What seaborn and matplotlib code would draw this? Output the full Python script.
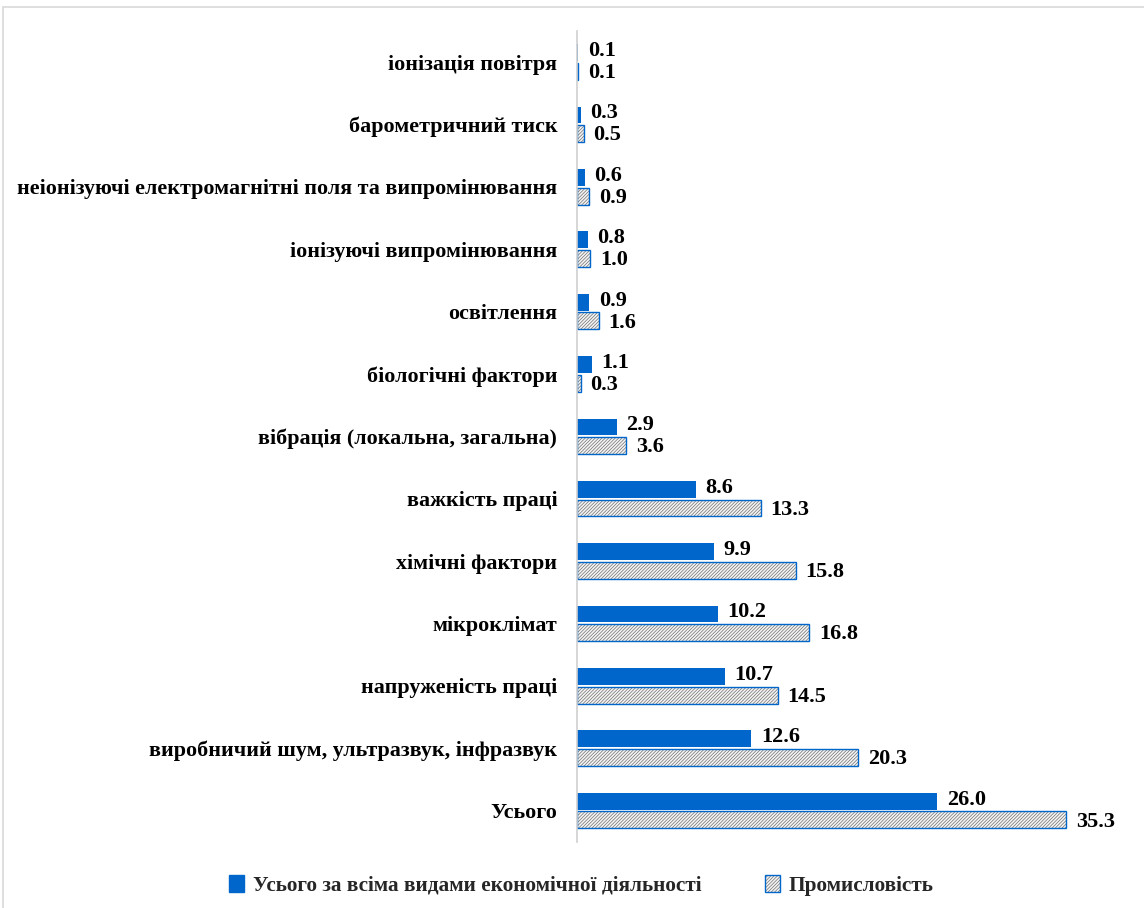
import numpy as np
import pandas as pd
import matplotlib
matplotlib.use("Agg")
import matplotlib.pyplot as plt
from matplotlib.patches import Rectangle
import seaborn as sns

categories = [
    "іонізація повітря",
    "барометричний тиск",
    "неіонізуючі електромагнітні поля та випромінювання",
    "іонізуючі випромінювання",
    "освітлення",
    "біологічні фактори",
    "вібрація (локальна, загальна)",
    "важкість праці",
    "хімічні фактори",
    "мікроклімат",
    "напруженість праці",
    "виробничий шум, ультразвук, інфразвук",
    "Усього",
]
series_names = ["Усього за всіма видами економічної діяльності", "Промисловість"]
total_values = [0.1, 0.3, 0.6, 0.8, 0.9, 1.1, 2.9, 8.6, 9.9, 10.2, 10.7, 12.6, 26.0]
industry_values = [0.1, 0.5, 0.9, 1.0, 1.6, 0.3, 3.6, 13.3, 15.8, 16.8, 14.5, 20.3, 35.3]

df = pd.DataFrame({
    "category": categories * 2,
    "series": [series_names[0]] * len(categories) + [series_names[1]] * len(categories),
    "value": total_values + industry_values,
})

sns.set_theme(style="white")
plt.rcParams["font.family"] = ["Liberation Serif", "DejaVu Serif"]
plt.rcParams["font.weight"] = "bold"
plt.rcParams["hatch.linewidth"] = 0.5

BLUE = "#0066CC"
HATCH = "/" * 10
HATCH_COLOR = "#707070"
fig = plt.figure(figsize=(11.44, 9.08), dpi=100)
ax = fig.add_axes([0.504, 0.073, 0.475, 0.893])

sns.barplot(data=df, y="category", x="value", hue="series", order=categories,
            hue_order=series_names, palette=[BLUE, "white"], width=0.6, gap=0.1,
            orient="h", ax=ax, legend=False, saturation=1)

n = len(categories)
blue_bars = ax.patches[:n]
hatch_bars = ax.patches[n:2 * n]
for p in blue_bars:
    p.set_edgecolor(BLUE)
    p.set_linewidth(0)
for p in hatch_bars:
    p.set_facecolor("#f4f4f4")
    p.set_edgecolor(HATCH_COLOR)
    p.set_hatch(HATCH)
    p.set_linewidth(0)
    outline = Rectangle((p.get_x(), p.get_y()), p.get_width(), p.get_height(),
                        fill=False, edgecolor=BLUE, linewidth=1.0, zorder=p.get_zorder() + 0.1)
    ax.add_patch(outline)

for bars, vals, dy in ((blue_bars, total_values, 1.2), (hatch_bars, industry_values, -1.2)):
    for p, v in zip(bars, vals):
        ax.annotate(f"{v:.1f}", (p.get_x() + p.get_width(), p.get_y() + p.get_height() / 2),
                    xytext=(7, dy), textcoords="offset points", va="center", ha="left",
                    fontsize=16, fontweight="bold", color="black")

ax.set_xlim(0, 39.2)
ax.set_ylim(n - 0.5, -0.5)
ax.set_xlabel("")
ax.set_ylabel("")
ax.set_xticks([])
ax.tick_params(axis="y", length=0, pad=14, labelsize=15.8)
for lbl in ax.get_yticklabels():
    lbl.set_fontweight("bold")
    lbl.set_color("black")
for s in ["top", "right", "bottom"]:
    ax.spines[s].set_visible(False)
ax.spines["left"].set_color("#d0d0d0")
ax.spines["left"].set_linewidth(1.2)

# Legend
h1 = Rectangle((0, 0), 1, 1, facecolor=BLUE, edgecolor=BLUE)
h2a = Rectangle((0, 0), 1, 1, facecolor="#f4f4f4", edgecolor=HATCH_COLOR, hatch=HATCH, linewidth=0)
h2b = Rectangle((0, 0), 1, 1, fill=False, edgecolor=BLUE, linewidth=1.0)
fig.legend([h1, (h2a, h2b)], series_names, loc="center", bbox_to_anchor=(0.508, 0.025), ncol=2,
           frameon=False, handlelength=0.7, handleheight=0.9,
           handletextpad=0.4, columnspacing=3.0, prop={"weight": "bold", "size": 15.3})

# Border around chart area
fig.add_artist(Rectangle((0.003, -0.01), 1.2, 1 - 0.008 + 0.01, transform=fig.transFigure,
                         fill=False, edgecolor="#d9d9d9", linewidth=1.2))

fig.savefig("out.png", dpi=100)
